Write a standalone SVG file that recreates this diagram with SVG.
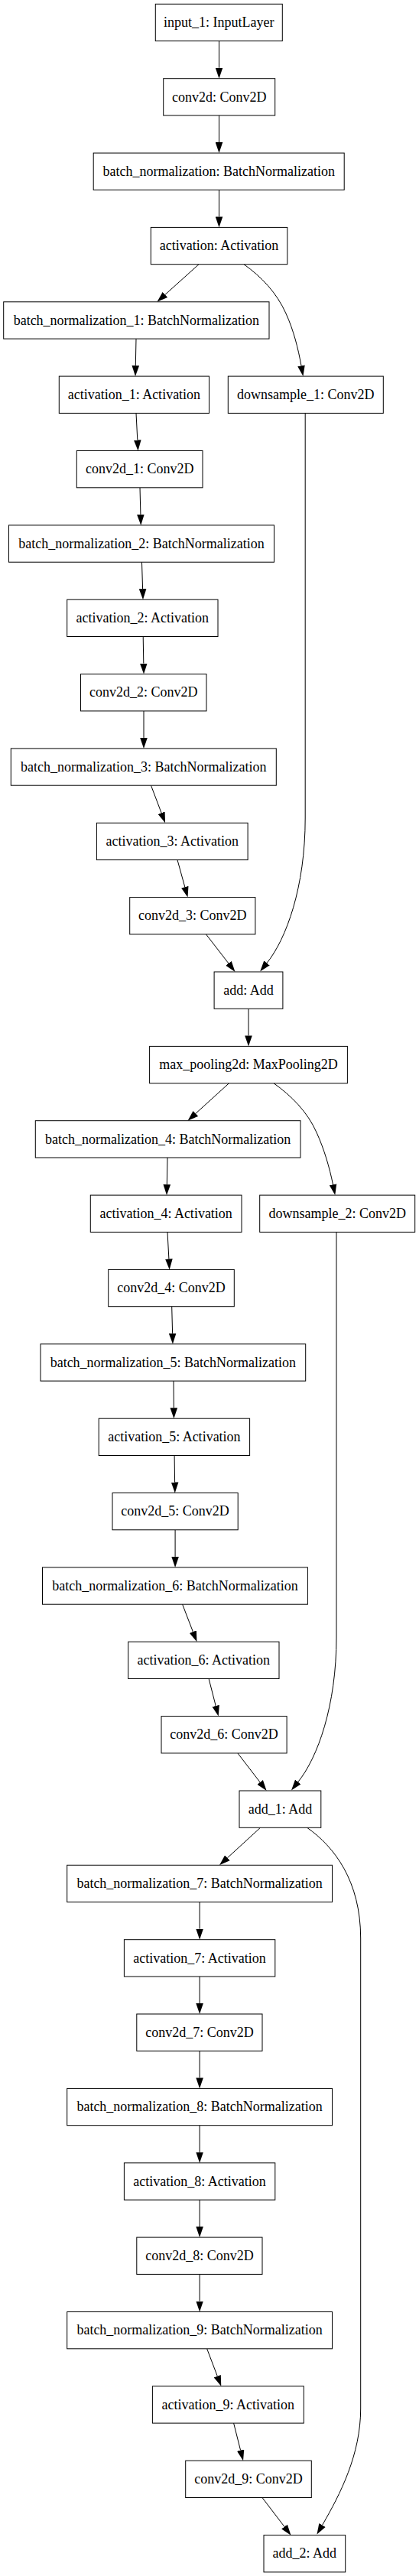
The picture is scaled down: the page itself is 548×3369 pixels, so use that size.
<svg xmlns="http://www.w3.org/2000/svg" width="548" height="3369" viewBox="0 0 548 3369">
<style>
.n rect{fill:#fff;stroke:#000;stroke-width:1}
.n text{font-family:"Liberation Serif","Times New Roman",serif;font-size:18px;text-anchor:middle;fill:#000}
#edges path{fill:none;stroke:#000;stroke-width:1;marker-end:url(#ah)}
</style>
<defs>
<marker id="ah" viewBox="0 0 14 10" refX="0" refY="5" markerWidth="14" markerHeight="10" markerUnits="userSpaceOnUse" orient="auto"><path d="M0,0.2 L14,5 L0,9.8 z" fill="#000"/></marker>
</defs>
<rect x="0" y="0" width="548" height="3369" fill="#fff"/>
<g id="edges">
<path d="M286.5,53.6 L286.5,88.7"/>
<path d="M286.5,151 L286.5,186.1"/>
<path d="M286.5,248.4 L286.5,283.4"/>
<path d="M260,345.7 L215.9,385.4"/>
<path d="M319,345.7 C342,362 362,383 374,410 C384,432 390,456 394,478.3"/>
<path d="M178,443.1 L177.3,478.1"/>
<path d="M178,540.4 L179.8,575.5"/>
<path d="M183,637.8 L183.9,672.9"/>
<path d="M185.5,735.2 L186.6,770.2"/>
<path d="M187.2,832.5 L187.8,867.6"/>
<path d="M188,930 L188,964.9"/>
<path d="M197.5,1027.2 L211.1,1063.2"/>
<path d="M232,1124.6 L241.8,1160.1"/>
<path d="M269.6,1222 L298.9,1259.9"/>
<path d="M399.2,540.4 L399.2,1070 C399.2,1160 374.5,1228 349,1259.5"/>
<path d="M325,1319.3 L325,1354.4"/>
<path d="M299.5,1416.7 L255.9,1456.3"/>
<path d="M358,1416.7 C381,1433 402,1454 414,1481 C424,1503 431,1527 435.5,1549.3"/>
<path d="M219,1514 L218.3,1549.1"/>
<path d="M219,1611.4 L220.9,1646.4"/>
<path d="M224.7,1708.7 L225.6,1743.8"/>
<path d="M440,1611.4 L440,2141 C440,2231 415.3,2299 389.8,2330.5"/>
<path d="M227,1806.1 L227.3,1841.2"/>
<path d="M228.1,1903.5 L228.6,1938.5"/>
<path d="M229.1,2000.8 L229.1,2035.9"/>
<path d="M238.6,2098.2 L252.4,2134.1"/>
<path d="M273.1,2195.5 L282.2,2231"/>
<path d="M310.9,2292.9 L340.1,2330.9"/>
<path d="M340.5,2390.3 L297.4,2429.8"/>
<path d="M401.7,2390.3 C437,2415 471.7,2460 471.7,2535 L471.7,3150 C471.7,3210 445,3262 421.5,3302.5"/>
<path d="M261.1,2487.6 L261.1,2522.7"/>
<path d="M261.1,2585 L261.1,2620"/>
<path d="M261.1,2682.3 L261.1,2717.4"/>
<path d="M261.1,2779.7 L261.1,2814.8"/>
<path d="M261.1,2877.1 L261.1,2912.1"/>
<path d="M261.1,2974.4 L261.1,3009.5"/>
<path d="M270.7,3071.8 L284.3,3107.7"/>
<path d="M305.6,3169.1 L314.6,3204.6"/>
<path d="M343,3266.5 L372,3304.5"/>
</g>
<g id="input_1" class="n"><rect x="203.3" y="5.3" width="166" height="48.3"/><text x="286.3" y="35.1">input_1: InputLayer</text></g>
<g id="conv2d" class="n"><rect x="213.7" y="102.7" width="146" height="48.3"/><text x="286.7" y="132.5">conv2d: Conv2D</text></g>
<g id="batch_normalization" class="n"><rect x="122.2" y="200.1" width="328" height="48.3"/><text x="286.2" y="229.9">batch_normalization: BatchNormalization</text></g>
<g id="activation" class="n"><rect x="197.3" y="297.4" width="178.5" height="48.3"/><text x="286.55" y="327.2">activation: Activation</text></g>
<g id="batch_normalization_1" class="n"><rect x="4.7" y="394.8" width="347.3" height="48.3"/><text x="178.35" y="424.6">batch_normalization_1: BatchNormalization</text></g>
<g id="activation_1" class="n"><rect x="77.3" y="492.1" width="196.2" height="48.3"/><text x="175.4" y="521.9">activation_1: Activation</text></g>
<g id="downsample_1" class="n"><rect x="298.3" y="492.1" width="203" height="48.3"/><text x="399.8" y="521.9">downsample_1: Conv2D</text></g>
<g id="conv2d_1" class="n"><rect x="100.3" y="589.5" width="164.7" height="48.3"/><text x="182.65" y="619.3">conv2d_1: Conv2D</text></g>
<g id="batch_normalization_2" class="n"><rect x="11.5" y="686.9" width="347" height="48.3"/><text x="185" y="716.7">batch_normalization_2: BatchNormalization</text></g>
<g id="activation_2" class="n"><rect x="87.7" y="784.2" width="197.3" height="48.3"/><text x="186.35" y="814">activation_2: Activation</text></g>
<g id="conv2d_2" class="n"><rect x="105.5" y="881.6" width="164.5" height="48.3"/><text x="187.75" y="911.4">conv2d_2: Conv2D</text></g>
<g id="batch_normalization_3" class="n"><rect x="14.3" y="978.9" width="347" height="48.3"/><text x="187.8" y="1008.7">batch_normalization_3: BatchNormalization</text></g>
<g id="activation_3" class="n"><rect x="126.4" y="1076.3" width="197.7" height="48.3"/><text x="225.25" y="1106.1">activation_3: Activation</text></g>
<g id="conv2d_3" class="n"><rect x="169.7" y="1173.6" width="164.2" height="48.3"/><text x="251.8" y="1203.4">conv2d_3: Conv2D</text></g>
<g id="add" class="n"><rect x="280.1" y="1271" width="89.8" height="48.3"/><text x="325" y="1300.8">add: Add</text></g>
<g id="max_pooling2d" class="n"><rect x="195.6" y="1368.4" width="258.8" height="48.3"/><text x="325" y="1398.2">max_pooling2d: MaxPooling2D</text></g>
<g id="batch_normalization_4" class="n"><rect x="46.3" y="1465.7" width="346.7" height="48.3"/><text x="219.65" y="1495.5">batch_normalization_4: BatchNormalization</text></g>
<g id="activation_4" class="n"><rect x="118.3" y="1563.1" width="197.7" height="48.3"/><text x="217.15" y="1592.9">activation_4: Activation</text></g>
<g id="downsample_2" class="n"><rect x="339.7" y="1563.1" width="203" height="48.3"/><text x="441.2" y="1592.9">downsample_2: Conv2D</text></g>
<g id="conv2d_4" class="n"><rect x="141.7" y="1660.4" width="164.6" height="48.3"/><text x="224" y="1690.2">conv2d_4: Conv2D</text></g>
<g id="batch_normalization_5" class="n"><rect x="53" y="1757.8" width="346.7" height="48.3"/><text x="226.35" y="1787.6">batch_normalization_5: BatchNormalization</text></g>
<g id="activation_5" class="n"><rect x="129.2" y="1855.2" width="197.4" height="48.3"/><text x="227.9" y="1885">activation_5: Activation</text></g>
<g id="conv2d_5" class="n"><rect x="147" y="1952.5" width="164.2" height="48.3"/><text x="229.1" y="1982.3">conv2d_5: Conv2D</text></g>
<g id="batch_normalization_6" class="n"><rect x="55.5" y="2049.9" width="346.9" height="48.3"/><text x="228.95" y="2079.7">batch_normalization_6: BatchNormalization</text></g>
<g id="activation_6" class="n"><rect x="167.7" y="2147.2" width="197.3" height="48.3"/><text x="266.35" y="2177">activation_6: Activation</text></g>
<g id="conv2d_6" class="n"><rect x="211" y="2244.6" width="164.1" height="48.3"/><text x="293.05" y="2274.4">conv2d_6: Conv2D</text></g>
<g id="add_1" class="n"><rect x="313" y="2342" width="106.8" height="48.3"/><text x="366.4" y="2371.8">add_1: Add</text></g>
<g id="batch_normalization_7" class="n"><rect x="87.7" y="2439.3" width="346.8" height="48.3"/><text x="261.1" y="2469.1">batch_normalization_7: BatchNormalization</text></g>
<g id="activation_7" class="n"><rect x="162.4" y="2536.7" width="197.4" height="48.3"/><text x="261.1" y="2566.5">activation_7: Activation</text></g>
<g id="conv2d_7" class="n"><rect x="178.8" y="2634" width="164.2" height="48.3"/><text x="260.9" y="2663.8">conv2d_7: Conv2D</text></g>
<g id="batch_normalization_8" class="n"><rect x="87.7" y="2731.4" width="346.8" height="48.3"/><text x="261.1" y="2761.2">batch_normalization_8: BatchNormalization</text></g>
<g id="activation_8" class="n"><rect x="162.4" y="2828.8" width="197.4" height="48.3"/><text x="261.1" y="2858.6">activation_8: Activation</text></g>
<g id="conv2d_8" class="n"><rect x="178.8" y="2926.1" width="164.2" height="48.3"/><text x="260.9" y="2955.9">conv2d_8: Conv2D</text></g>
<g id="batch_normalization_9" class="n"><rect x="87.7" y="3023.5" width="346.8" height="48.3"/><text x="261.1" y="3053.3">batch_normalization_9: BatchNormalization</text></g>
<g id="activation_9" class="n"><rect x="199.4" y="3120.8" width="197.9" height="48.3"/><text x="298.35" y="3150.6">activation_9: Activation</text></g>
<g id="conv2d_9" class="n"><rect x="242.7" y="3218.2" width="164.6" height="48.3"/><text x="325" y="3248">conv2d_9: Conv2D</text></g>
<g id="add_2" class="n"><rect x="345" y="3315.6" width="106.7" height="48.3"/><text x="398.35" y="3345.4">add_2: Add</text></g>
</svg>
